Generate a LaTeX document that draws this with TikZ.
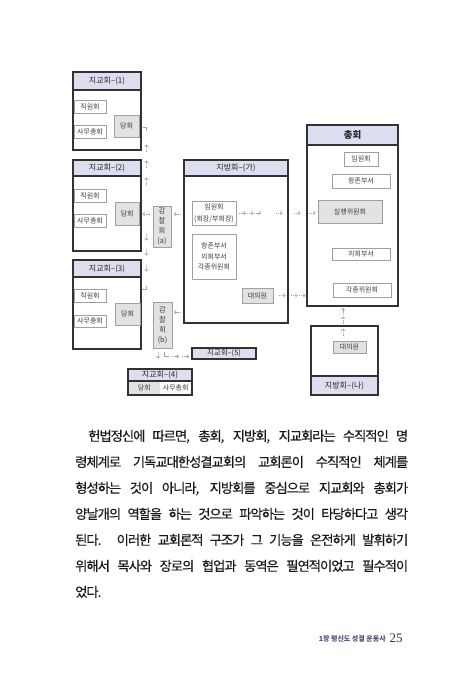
\documentclass[tikz,border=0pt]{standalone}
\usepackage{fontspec}
\setmainfont{Noto Sans CJK KR}
\newfontfamily\bodyfont[FakeBold=0.3,LetterSpace=-7.5]{Noto Sans CJK KR}
\newfontfamily\numfont{Liberation Serif}
\usetikzlibrary{arrows.meta,decorations.markings}
\definecolor{lav}{RGB}{221,222,240}
\definecolor{gfill}{RGB}{226,226,226}
\definecolor{sline}{RGB}{160,160,160}
\definecolor{oline}{RGB}{50,50,50}
\definecolor{dtext}{RGB}{60,60,60}
\definecolor{arrc}{RGB}{165,165,165}
\definecolor{footc}{RGB}{72,82,120}
\newcommand\garrow{\draw[garr] (-3.5pt,0pt) -- (3.5pt,0pt);}
\tikzset{
  corners/.style args={#1/#2/#3/#4}{at={({(#1+#3)/2},{(#2+#4)/2})},
    minimum width={(#3-#1)*1pt}, minimum height={(#4-#2)*1pt}},
  outer/.style={draw=oline, line width=1.1pt, fill=white, inner sep=0pt, outer sep=0pt},
  hdr/.style={outer, fill=lav, font=\fontsize{8}{9}\selectfont, text=black!85},
  sbox/.style={draw=sline, line width=0.5pt, fill=white, inner sep=0pt, outer sep=0pt,
    font=\fontsize{7}{8}\selectfont, text=dtext, align=center},
  gbox/.style={sbox, fill=gfill},
  cell/.style={inner sep=0pt, outer sep=0pt, font=\fontsize{7}{8}\selectfont, text=dtext},
  garr/.style={draw=arrc, line width=0.6pt, dash pattern=on 1.4pt off 0.8pt,
    -{Straight Barb[length=1.7pt,width=3.6pt]}},
  gline/.style={draw=arrc, line width=0.6pt},
  ga/.style={postaction={decorate, decoration={markings, mark=at position #1 with {\garrow}}}},
  body/.style={anchor=base west, inner sep=0pt, font=\fontsize{13.3}{13.3}\bodyfont, text=black!90},
}
\begin{document}
\begin{tikzpicture}[x=1pt,y=-1pt]
\fill[white] (0,0) rectangle (470,686);
\useasboundingbox (0,0) rectangle (470,686);

% 지교회-(1)
\node[outer, corners=73/72/141/150] (jg1) {};
\node[hdr, corners=73/72/141/90] (jg1h) {지교회–(1)};
\node[sbox, corners=74/100/106/113] (jw1) {직원회};
\node[sbox, corners=74/125/106/138] (sc1) {사무총회};
\node[gbox, corners=114/115/139/137] (dh1) {당회};
% 지교회-(2)
\node[outer, corners=73/160/141/251] (jg2) {};
\node[hdr, corners=73/160/141/176] (jg2h) {지교회–(2)};
\node[sbox, corners=74/189/106/202] (jw2) {직원회};
\node[sbox, corners=74/214/106/227] (sc2) {사무총회};
\node[gbox, corners=115/202/139/225] (dh2) {당회};
% 지교회-(3)
\node[outer, corners=73/260/141/349] (jg3) {};
\node[hdr, corners=73/260/141/277] (jg3h) {지교회–(3)};
\node[sbox, corners=74/289/106/302] (jw3) {직원회};
\node[sbox, corners=74/315/106/327] (sc3) {사무총회};
\node[gbox, corners=115/303/140/325] (dh3) {당회};

% 감찰회
\node[gbox, corners=153/206/171/247, font=\fontsize{7.3}{10}\selectfont] (gca) {감\\찰\\회\\(a)};
\node[gbox, corners=153/302/172/348, font=\fontsize{7.3}{10}\selectfont] (gcb) {감\\찰\\회\\(b)};

% 지교회-(5), (4)
\node[hdr, corners=192/348/256/359, font=\fontsize{7.5}{8}\selectfont] (jg5) {지교회–(5)};
\node[outer, corners=128/369/192/395] (jg4) {};
\node[hdr, corners=128/369/192/381] (jg4h) {지교회–(4)};
\node[cell, fill=gfill, corners=128.6/381.6/160/394.4] (dh4) {당회};
\node[cell, corners=160/381.6/191.4/394.4] (sc4) {사무총회};

% 지방회-(가)
\node[outer, corners=184/160/288/323] (jb) {};
\node[hdr, corners=184/160/288/176] (jbh) {지방회–(가)};
\node[sbox, corners=192/201/236/225, font=\fontsize{7}{12}\selectfont] (yw) {임원회\\(회장/부회장)};
\node[sbox, corners=192/234/236/279, font=\fontsize{7}{10.5}\selectfont] (hj) {항존부서\\의회부서\\각종위원회};
\node[gbox, corners=242/288/273/303] (dy1) {대의원};

% 총회
\node[outer, corners=307/125/398/306] (cg) {};
\node[hdr, corners=307/125/398/145, font=\fontsize{9.5}{10}\selectfont\bfseries] (cgh) {총회};
\node[sbox, corners=344/152/378/166] (cyw) {임원회};
\node[sbox, corners=332/174/390/188] (chj) {항존부서};
\node[gbox, corners=318/200/382/223] (sh) {실행위원회};
\node[sbox, corners=332/248/390/260] (cuh) {의회부서};
\node[sbox, corners=333/283/391/297] (cgj) {각종위원회};

% 지방회-(나)
\node[outer, corners=311/326/378/395] (jn) {};
\node[hdr, corners=311/376/378/395] (jnh) {지방회–(나)};
\node[gbox, corners=333/341/366/353] (dy2) {대의원};

% connectors
\coordinate (ya) at (0,214);
\coordinate (yb) at (0,312);
\path[ga=6.5pt] (jb.west |- ya) -- (gca.east |- ya);
\path[ga=7pt] (gca.west |- ya) -- (dh2.east |- ya);
\path[ga=6.5pt] (jb.west |- yb) -- (gcb.east |- yb);

\coordinate (va) at (146.5,190);
\coordinate (c1) at (146.5,127.5);
\path[ga=9pt, ga=26pt, ga=42pt] (va) -- (c1);
\draw[gline] (c1) ++(-4,0) -- (c1) -- ++(0,3.5);

\coordinate (vb) at (146.5,228);
\coordinate (c3) at (146.5,289.5);
\path[ga=9pt, ga=24pt, ga=40pt] (vb) -- (c3);
\draw[gline] (c3) ++(0,-4) -- (c3) -- ++(-4.5,0);

\path[ga=7pt] ([xshift=-4.5pt]gcb.south) -- ([xshift=-4.5pt]gcb.south |- jg4.north);
\coordinate (c5) at (164.5,356.5);
\draw[gline] (c5) ++(0,-4.5) -- (c5) -- ++(4,0);
\path[ga=11pt, ga=21pt] (c5) -- (jg5.west |- c5);

\path[ga=6.5pt, ga=14pt, ga=21.5pt, ga=43pt, ga=61pt, ga=76pt] (yw.east) -- (yw.east -| sh.west);
\path[ga=9pt, ga=21pt, ga=29pt] (dy1.east) -- (dy1.east -| cg.west);
\path[ga=9pt, ga=21pt, ga=29.5pt] ([xshift=-6.5pt]dy2.north) -- ([xshift=-6.5pt]dy2.north |- cg.south);

% body text
\node[body] (t1) at (75,440.9) {\makebox[333pt][s]{\hspace*{13pt}헌법정신에 따르면, 총회, 지방회, 지교회라는 수직적인 명}};
\node[body] (t2) at (75,466.9) {\makebox[333pt][s]{령체계로 기독교대한성결교회의 교회론이 수직적인 체계를}};
\node[body] (t3) at (75,492.9) {\makebox[333pt][s]{형성하는 것이 아니라, 지방회를 중심으로 지교회와 총회가}};
\node[body] (t4) at (75,518.9) {\makebox[333pt][s]{양날개의 역할을 하는 것으로 파악하는 것이 타당하다고 생각}};
\node[body] (t5) at (75,544.9) {\makebox[333pt][s]{된다. 이러한 교회론적 구조가 그 기능을 온전하게 발휘하기}};
\node[body] (t6) at (75,570.9) {\makebox[333pt][s]{위해서 목사와 장로의 협업과 동역은 필연적이었고 필수적이}};
\node[body] (t7) at (75,596.9) {었다.};

% footer
\node[anchor=base east, inner sep=0pt, font=\fontsize{7}{7}\selectfont\bfseries, text=footc] (ft) at (386,641) {1장 평신도 성결 운동사};
\node[anchor=base west, inner sep=0pt, font=\fontsize{13}{13}\selectfont\numfont, text=black!80] (pg) at (389.5,642) {25};
\end{tikzpicture}
\end{document}
